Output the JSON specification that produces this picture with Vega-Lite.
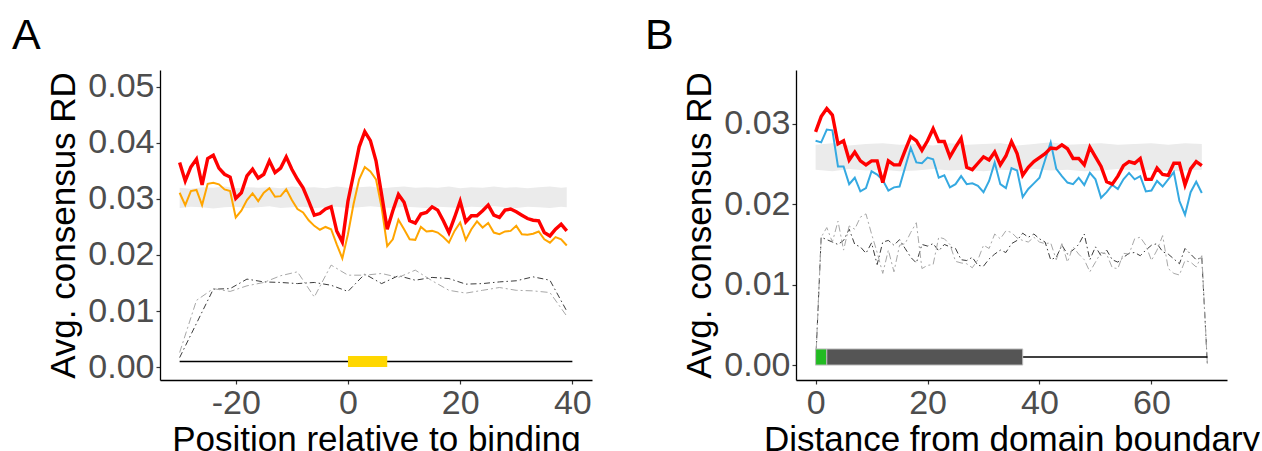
{
  "$schema": "https://vega.github.io/schema/vega-lite/v6.json",
  "background": "white",
  "padding": {"left": 12, "top": 14, "right": 0, "bottom": 0},
  "bounds": "flush",
  "spacing": 204,
  "config": {
    "view": {"stroke": null},
    "font": "Liberation Sans",
    "axis": {"grid": false, "domainColor": "black", "domainWidth": 1.3, "tickColor": "#333333", "tickSize": 4, "tickWidth": 1.2, "labelFontSize": 34, "labelColor": "#4D4D4D", "labelFont": "Liberation Sans", "titleFont": "Liberation Sans", "titleFontSize": 35, "titleColor": "black", "titleFontWeight": "normal", "labelExpr": "replace(datum.label, '\u2212', '-')"},
    "axisX": {"labelPadding": 2, "titlePadding": 2},
    "axisY": {"labelPadding": 2, "titlePadding": 6},
    "title": {"fontSize": 43, "fontWeight": "normal", "anchor": "start", "frame": "group", "color": "black", "font": "Liberation Sans", "baseline": "alphabetic", "offset": 12}
  },
  "datasets": {
    "aLines": [
      {"x": -30, "red": 0.0365, "orange": 0.0311}, {"x": -29, "red": 0.0332, "orange": 0.0289}, {"x": -28, "red": 0.0357, "orange": 0.0314}, {"x": -27, "red": 0.0371, "orange": 0.0316}, {"x": -26, "red": 0.0325, "orange": 0.0289}, {"x": -25, "red": 0.0372, "orange": 0.0327}, {"x": -24, "red": 0.0378, "orange": 0.0329}, {"x": -23, "red": 0.0355, "orange": 0.0326}, {"x": -22, "red": 0.0344, "orange": 0.0317}, {"x": -21, "red": 0.0339, "orange": 0.0314},
      {"x": -20, "red": 0.0301, "orange": 0.0267}, {"x": -19, "red": 0.0311, "orange": 0.0279}, {"x": -18, "red": 0.0341, "orange": 0.0298}, {"x": -17, "red": 0.0353, "orange": 0.031}, {"x": -16, "red": 0.0337, "orange": 0.0296}, {"x": -15, "red": 0.0344, "orange": 0.0311}, {"x": -14, "red": 0.0368, "orange": 0.0319}, {"x": -13, "red": 0.0347, "orange": 0.0304}, {"x": -12, "red": 0.0355, "orange": 0.0305}, {"x": -11, "red": 0.0375, "orange": 0.0317},
      {"x": -10, "red": 0.0353, "orange": 0.0298}, {"x": -9, "red": 0.0335, "orange": 0.0282}, {"x": -8, "red": 0.032, "orange": 0.0276}, {"x": -7, "red": 0.0296, "orange": 0.0262}, {"x": -6, "red": 0.0271, "orange": 0.0252}, {"x": -5, "red": 0.0274, "orange": 0.0245}, {"x": -4, "red": 0.0282, "orange": 0.025}, {"x": -3, "red": 0.0286, "orange": 0.0246}, {"x": -2, "red": 0.0243, "orange": 0.0219}, {"x": -1, "red": 0.0223, "orange": 0.0194},
      {"x": 0, "red": 0.0296, "orange": 0.0237}, {"x": 1, "red": 0.0344, "orange": 0.0291}, {"x": 2, "red": 0.0393, "orange": 0.0335}, {"x": 3, "red": 0.042, "orange": 0.0357}, {"x": 4, "red": 0.0404, "orange": 0.0349}, {"x": 5, "red": 0.0368, "orange": 0.0335}, {"x": 6, "red": 0.0308, "orange": 0.0285}, {"x": 7, "red": 0.0246, "orange": 0.0216}, {"x": 8, "red": 0.0279, "orange": 0.0228}, {"x": 9, "red": 0.0308, "orange": 0.0263},
      {"x": 10, "red": 0.0294, "orange": 0.0246}, {"x": 11, "red": 0.0261, "orange": 0.0228}, {"x": 12, "red": 0.0257, "orange": 0.0227}, {"x": 13, "red": 0.0273, "orange": 0.025}, {"x": 14, "red": 0.0276, "orange": 0.0242}, {"x": 15, "red": 0.0286, "orange": 0.0243}, {"x": 16, "red": 0.028, "orange": 0.024}, {"x": 17, "red": 0.0261, "orange": 0.0232}, {"x": 18, "red": 0.024, "orange": 0.0222}, {"x": 19, "red": 0.0267, "orange": 0.0243},
      {"x": 20, "red": 0.0296, "orange": 0.0258}, {"x": 21, "red": 0.0259, "orange": 0.0227}, {"x": 22, "red": 0.027, "orange": 0.0246}, {"x": 23, "red": 0.027, "orange": 0.026}, {"x": 24, "red": 0.0279, "orange": 0.0249}, {"x": 25, "red": 0.0289, "orange": 0.0257}, {"x": 26, "red": 0.0271, "orange": 0.024}, {"x": 27, "red": 0.0267, "orange": 0.0237}, {"x": 28, "red": 0.028, "orange": 0.0242}, {"x": 29, "red": 0.0282, "orange": 0.0243},
      {"x": 30, "red": 0.0277, "orange": 0.0252}, {"x": 31, "red": 0.0271, "orange": 0.0237}, {"x": 32, "red": 0.0265, "orange": 0.0236}, {"x": 33, "red": 0.0262, "orange": 0.0238}, {"x": 34, "red": 0.0261, "orange": 0.0242}, {"x": 35, "red": 0.024, "orange": 0.0228}, {"x": 36, "red": 0.0234, "orange": 0.0222}, {"x": 37, "red": 0.0246, "orange": 0.0232}, {"x": 38, "red": 0.0255, "orange": 0.0228}, {"x": 39, "red": 0.0243, "orange": 0.0217}
    ],
    "aDash": [
      {"x": -30, "dark": 0.0017, "light": 0.0026}, {"x": -27, "dark": 0.0078, "light": 0.0119}, {"x": -24, "dark": 0.0139, "light": 0.014}, {"x": -21, "dark": 0.014, "light": 0.0135}, {"x": -18, "dark": 0.0157, "light": 0.0145}, {"x": -15, "dark": 0.0152, "light": 0.0151}, {"x": -12, "dark": 0.0151, "light": 0.0163}, {"x": -9, "dark": 0.0149, "light": 0.017}, {"x": -6, "dark": 0.0151, "light": 0.0125}, {"x": -3, "dark": 0.0146, "light": 0.0182}, {"x": 0, "dark": 0.0135, "light": 0.0164}, {"x": 3, "dark": 0.0166, "light": 0.0164},
      {"x": 6, "dark": 0.0149, "light": 0.0167}, {"x": 9, "dark": 0.0163, "light": 0.016}, {"x": 12, "dark": 0.0155, "light": 0.0173}, {"x": 15, "dark": 0.016, "light": 0.0154}, {"x": 18, "dark": 0.0158, "light": 0.0137}, {"x": 21, "dark": 0.0148, "light": 0.0132}, {"x": 24, "dark": 0.0149, "light": 0.0137}, {"x": 27, "dark": 0.0152, "light": 0.0142}, {"x": 30, "dark": 0.0154, "light": 0.0137}, {"x": 33, "dark": 0.0161, "light": 0.0136}, {"x": 36, "dark": 0.0155, "light": 0.0133}, {"x": 39, "dark": 0.01, "light": 0.0091}
    ],
    "aBand": [
      {"x": -30, "y": 0.0284, "y2": 0.032}, {"x": -28, "y": 0.0286, "y2": 0.0318}, {"x": -26, "y": 0.0285, "y2": 0.0321}, {"x": -24, "y": 0.0283, "y2": 0.032}, {"x": -22, "y": 0.0285, "y2": 0.0322}, {"x": -20, "y": 0.0286, "y2": 0.0319}, {"x": -18, "y": 0.0284, "y2": 0.0321}, {"x": -16, "y": 0.0285, "y2": 0.032}, {"x": -14, "y": 0.0287, "y2": 0.0321}, {"x": -12, "y": 0.0284, "y2": 0.0319}, {"x": -10, "y": 0.0285, "y2": 0.0322}, {"x": -8, "y": 0.0286, "y2": 0.032},
      {"x": -6, "y": 0.0284, "y2": 0.0321}, {"x": -4, "y": 0.0285, "y2": 0.0319}, {"x": -2, "y": 0.0286, "y2": 0.0322}, {"x": 0, "y": 0.0284, "y2": 0.032}, {"x": 2, "y": 0.0285, "y2": 0.0321}, {"x": 4, "y": 0.0287, "y2": 0.0322}, {"x": 6, "y": 0.0285, "y2": 0.0319}, {"x": 8, "y": 0.0284, "y2": 0.0321}, {"x": 10, "y": 0.0286, "y2": 0.0322}, {"x": 12, "y": 0.0285, "y2": 0.032}, {"x": 14, "y": 0.0284, "y2": 0.0321}, {"x": 16, "y": 0.0286, "y2": 0.032},
      {"x": 18, "y": 0.0285, "y2": 0.0322}, {"x": 20, "y": 0.0284, "y2": 0.0319}, {"x": 22, "y": 0.0286, "y2": 0.0321}, {"x": 24, "y": 0.0285, "y2": 0.032}, {"x": 26, "y": 0.0287, "y2": 0.0322}, {"x": 28, "y": 0.0285, "y2": 0.032}, {"x": 30, "y": 0.0284, "y2": 0.0321}, {"x": 32, "y": 0.0286, "y2": 0.0319}, {"x": 34, "y": 0.0285, "y2": 0.0321}, {"x": 36, "y": 0.0284, "y2": 0.0322}, {"x": 38, "y": 0.0286, "y2": 0.032}, {"x": 39, "y": 0.0285, "y2": 0.0321}
    ],
    "aBase": [{"x": -30, "x2": 40, "y": 0.001}],
    "aBox": [{"x": 0, "x2": 7, "y": 0, "y2": 0.002}],
    "bLines": [
      {"x": 0, "red": 0.029, "blue": 0.0279}, {"x": 1, "red": 0.0309, "blue": 0.0277}, {"x": 2, "red": 0.0319, "blue": 0.0293}, {"x": 3, "red": 0.0311, "blue": 0.0292}, {"x": 4, "red": 0.0275, "blue": 0.0247}, {"x": 5, "red": 0.0279, "blue": 0.0247}, {"x": 6, "red": 0.0255, "blue": 0.0225}, {"x": 7, "red": 0.0265, "blue": 0.0233}, {"x": 8, "red": 0.0254, "blue": 0.0216}, {"x": 9, "red": 0.0249, "blue": 0.022},
      {"x": 10, "red": 0.0254, "blue": 0.0241}, {"x": 11, "red": 0.0254, "blue": 0.0237}, {"x": 12, "red": 0.0227, "blue": 0.023}, {"x": 13, "red": 0.0254, "blue": 0.0217}, {"x": 14, "red": 0.0249, "blue": 0.0221}, {"x": 15, "red": 0.0249, "blue": 0.0222}, {"x": 16, "red": 0.0267, "blue": 0.0246}, {"x": 17, "red": 0.0284, "blue": 0.027}, {"x": 18, "red": 0.0279, "blue": 0.0252}, {"x": 19, "red": 0.0267, "blue": 0.0251},
      {"x": 20, "red": 0.0279, "blue": 0.0258}, {"x": 21, "red": 0.0294, "blue": 0.0256}, {"x": 22, "red": 0.0278, "blue": 0.0233}, {"x": 23, "red": 0.0278, "blue": 0.0236}, {"x": 24, "red": 0.0259, "blue": 0.0221}, {"x": 25, "red": 0.0271, "blue": 0.0225}, {"x": 26, "red": 0.0282, "blue": 0.0235}, {"x": 27, "red": 0.0246, "blue": 0.0225}, {"x": 28, "red": 0.0243, "blue": 0.0226}, {"x": 29, "red": 0.0251, "blue": 0.0223},
      {"x": 30, "red": 0.0259, "blue": 0.0215}, {"x": 31, "red": 0.0255, "blue": 0.0229}, {"x": 32, "red": 0.0265, "blue": 0.0252}, {"x": 33, "red": 0.0249, "blue": 0.0225}, {"x": 34, "red": 0.026, "blue": 0.022}, {"x": 35, "red": 0.0278, "blue": 0.0245}, {"x": 36, "red": 0.0263, "blue": 0.0242}, {"x": 37, "red": 0.0236, "blue": 0.0209}, {"x": 38, "red": 0.0246, "blue": 0.0219}, {"x": 39, "red": 0.0253, "blue": 0.0226},
      {"x": 40, "red": 0.0258, "blue": 0.0233}, {"x": 41, "red": 0.0263, "blue": 0.0255}, {"x": 42, "red": 0.027, "blue": 0.0277}, {"x": 43, "red": 0.0269, "blue": 0.0244}, {"x": 44, "red": 0.0274, "blue": 0.0235}, {"x": 45, "red": 0.0269, "blue": 0.0227}, {"x": 46, "red": 0.0257, "blue": 0.0225}, {"x": 47, "red": 0.0257, "blue": 0.0233}, {"x": 48, "red": 0.0249, "blue": 0.0224}, {"x": 49, "red": 0.0271, "blue": 0.0239},
      {"x": 50, "red": 0.0259, "blue": 0.0231}, {"x": 51, "red": 0.0247, "blue": 0.0208}, {"x": 52, "red": 0.0228, "blue": 0.0215}, {"x": 53, "red": 0.0225, "blue": 0.0224}, {"x": 54, "red": 0.0235, "blue": 0.0219}, {"x": 55, "red": 0.0248, "blue": 0.0231}, {"x": 56, "red": 0.0253, "blue": 0.0239}, {"x": 57, "red": 0.0251, "blue": 0.0231}, {"x": 58, "red": 0.0257, "blue": 0.0235}, {"x": 59, "red": 0.0231, "blue": 0.0216},
      {"x": 60, "red": 0.0231, "blue": 0.0217}, {"x": 61, "red": 0.0245, "blue": 0.0229}, {"x": 62, "red": 0.0237, "blue": 0.0222}, {"x": 63, "red": 0.0236, "blue": 0.0231}, {"x": 64, "red": 0.0251, "blue": 0.024}, {"x": 65, "red": 0.0251, "blue": 0.0204}, {"x": 66, "red": 0.0224, "blue": 0.0187}, {"x": 67, "red": 0.0244, "blue": 0.0215}, {"x": 68, "red": 0.0253, "blue": 0.0228}, {"x": 69, "red": 0.0248, "blue": 0.0214}
    ],
    "bDash": [
      {"x": 0, "dark": 0, "light": 0}, {"x": 1, "dark": 0.0159, "light": 0.0159}, {"x": 2, "dark": 0.0156, "light": 0.0171}, {"x": 3, "dark": 0.0153, "light": 0.0153}, {"x": 4, "dark": 0.015, "light": 0.0179}, {"x": 5, "dark": 0.0155, "light": 0.0143}, {"x": 6, "dark": 0.0169, "light": 0.0173}, {"x": 7, "dark": 0.015, "light": 0.0169}, {"x": 8, "dark": 0.0147, "light": 0.0184}, {"x": 9, "dark": 0.0139, "light": 0.0188},
      {"x": 10, "dark": 0.0152, "light": 0.0163}, {"x": 11, "dark": 0.0125, "light": 0.014}, {"x": 12, "dark": 0.0153, "light": 0.0114}, {"x": 13, "dark": 0.0155, "light": 0.0143}, {"x": 14, "dark": 0.0149, "light": 0.0116}, {"x": 15, "dark": 0.0156, "light": 0.0149}, {"x": 16, "dark": 0.0145, "light": 0.0151}, {"x": 17, "dark": 0.0134, "light": 0.0165}, {"x": 18, "dark": 0.0127, "light": 0.0177}, {"x": 19, "dark": 0.015, "light": 0.012},
      {"x": 20, "dark": 0.0148, "light": 0.0124}, {"x": 21, "dark": 0.0151, "light": 0.0125}, {"x": 22, "dark": 0.0142, "light": 0.0159}, {"x": 23, "dark": 0.015, "light": 0.0157}, {"x": 24, "dark": 0.0147, "light": 0.015}, {"x": 25, "dark": 0.0145, "light": 0.0129}, {"x": 26, "dark": 0.0131, "light": 0.0127}, {"x": 27, "dark": 0.013, "light": 0.0126}, {"x": 28, "dark": 0.0134, "light": 0.0121}, {"x": 29, "dark": 0.0124, "light": 0.0131},
      {"x": 30, "dark": 0.0123, "light": 0.0149}, {"x": 31, "dark": 0.0132, "light": 0.0145}, {"x": 32, "dark": 0.0138, "light": 0.0163}, {"x": 33, "dark": 0.0143, "light": 0.0157}, {"x": 34, "dark": 0.014, "light": 0.0167}, {"x": 35, "dark": 0.0151, "light": 0.0165}, {"x": 36, "dark": 0.0155, "light": 0.0158}, {"x": 37, "dark": 0.0164, "light": 0.0155}, {"x": 38, "dark": 0.0159, "light": 0.0153}, {"x": 39, "dark": 0.0163, "light": 0.0159},
      {"x": 40, "dark": 0.0157, "light": 0.0153}, {"x": 41, "dark": 0.0153, "light": 0.0151}, {"x": 42, "dark": 0.0131, "light": 0.0152}, {"x": 43, "dark": 0.0134, "light": 0.0131}, {"x": 44, "dark": 0.0149, "light": 0.0151}, {"x": 45, "dark": 0.0138, "light": 0.0128}, {"x": 46, "dark": 0.0143, "light": 0.0147}, {"x": 47, "dark": 0.015, "light": 0.0138}, {"x": 48, "dark": 0.0163, "light": 0.0131}, {"x": 49, "dark": 0.0131, "light": 0.0116},
      {"x": 50, "dark": 0.0147, "light": 0.0128}, {"x": 51, "dark": 0.0136, "light": 0.014}, {"x": 52, "dark": 0.0143, "light": 0.0138}, {"x": 53, "dark": 0.0131, "light": 0.0121}, {"x": 54, "dark": 0.0128, "light": 0.012}, {"x": 55, "dark": 0.0134, "light": 0.0139}, {"x": 56, "dark": 0.0139, "light": 0.0138}, {"x": 57, "dark": 0.014, "light": 0.0157}, {"x": 58, "dark": 0.0136, "light": 0.0159}, {"x": 59, "dark": 0.0143, "light": 0.0149},
      {"x": 60, "dark": 0.0149, "light": 0.013}, {"x": 61, "dark": 0.0151, "light": 0.0143}, {"x": 62, "dark": 0.0141, "light": 0.0161}, {"x": 63, "dark": 0.0138, "light": 0.012}, {"x": 64, "dark": 0.0132, "light": 0.0114}, {"x": 65, "dark": 0.0126, "light": 0.0112}, {"x": 66, "dark": 0.0145, "light": 0.013}, {"x": 67, "dark": 0.0138, "light": 0.0128}, {"x": 68, "dark": 0.0131, "light": 0.0122}, {"x": 69, "dark": 0.0134, "light": 0.0136}, {"x": 70, "dark": 0, "light": 0}
    ],
    "bBand": [
      {"x": 0, "y": 0.0243, "y2": 0.0274}, {"x": 3, "y": 0.0241, "y2": 0.0276}, {"x": 6, "y": 0.0244, "y2": 0.0273}, {"x": 9, "y": 0.0242, "y2": 0.0275}, {"x": 12, "y": 0.0243, "y2": 0.0276}, {"x": 15, "y": 0.0241, "y2": 0.0274}, {"x": 18, "y": 0.0242, "y2": 0.0275}, {"x": 21, "y": 0.0244, "y2": 0.0273},
      {"x": 24, "y": 0.0242, "y2": 0.0276}, {"x": 27, "y": 0.0243, "y2": 0.0274}, {"x": 30, "y": 0.0241, "y2": 0.0275}, {"x": 33, "y": 0.0243, "y2": 0.0276}, {"x": 36, "y": 0.0242, "y2": 0.0273}, {"x": 39, "y": 0.0244, "y2": 0.0275}, {"x": 42, "y": 0.0242, "y2": 0.0277}, {"x": 45, "y": 0.0243, "y2": 0.0274},
      {"x": 48, "y": 0.0241, "y2": 0.0275}, {"x": 51, "y": 0.0242, "y2": 0.0276}, {"x": 54, "y": 0.0244, "y2": 0.0274}, {"x": 57, "y": 0.0242, "y2": 0.0275}, {"x": 60, "y": 0.0243, "y2": 0.0276}, {"x": 63, "y": 0.0241, "y2": 0.0274}, {"x": 66, "y": 0.0242, "y2": 0.0276}, {"x": 69, "y": 0.0243, "y2": 0.0275}
    ],
    "bBase": [{"x": 0, "x2": 70, "y": 0.001}],
    "bBox": [{"x": 0, "x2": 2, "y": 0, "y2": 0.002, "part": "boundary"}, {"x": 2, "x2": 37, "y": 0, "y2": 0.002, "part": "domain"}]
  },
  "hconcat": [
    {
      "title": {"text": "A", "dx": -148},
      "width": 432,
      "height": 310,
      "encoding": {
        "x": {"field": "x", "type": "quantitative", "scale": {"domain": [-33.5, 43.5], "nice": false, "zero": false}, "axis": {"title": "Position relative to binding", "values": [-20, 0, 20, 40]}},
        "y": {"field": "y", "type": "quantitative", "scale": {"domain": [-0.0023, 0.053], "nice": false, "zero": false}, "axis": {"title": "Avg. consensus RD", "values": [0, 0.01, 0.02, 0.03, 0.04, 0.05], "format": ".2f"}}
      },
      "layer": [
        {"data": {"name": "aBand"}, "mark": {"type": "area", "color": "#EBEBEB", "opacity": 1}, "encoding": {"y2": {"field": "y2"}}},
        {"data": {"name": "aDash"}, "transform": [{"fold": ["dark"], "as": ["s", "y"]}], "mark": {"type": "line", "color": "#3C3C3C", "strokeWidth": 1, "strokeDash": [6, 3, 1.5, 3]}},
        {"data": {"name": "aDash"}, "transform": [{"fold": ["light"], "as": ["s", "y"]}], "mark": {"type": "line", "color": "#A8A8A8", "strokeWidth": 1, "strokeDash": [7, 3, 2, 3]}},
        {"data": {"name": "aBase"}, "mark": {"type": "rule", "color": "black", "strokeWidth": 1.5}, "encoding": {"x2": {"field": "x2"}}},
        {"data": {"name": "aBox"}, "mark": {"type": "rect", "color": "#FFD700"}, "encoding": {"x2": {"field": "x2"}, "y2": {"field": "y2"}}},
        {"data": {"name": "aLines"}, "transform": [{"fold": ["orange"], "as": ["s", "y"]}], "mark": {"type": "line", "color": "#FFA500", "strokeWidth": 2}},
        {"data": {"name": "aLines"}, "transform": [{"fold": ["red"], "as": ["s", "y"]}], "mark": {"type": "line", "color": "#FF0000", "strokeWidth": 3.4}}
      ]
    },
    {
      "title": {"text": "B", "dx": -151},
      "width": 431,
      "height": 310,
      "encoding": {
        "x": {"field": "x", "type": "quantitative", "scale": {"domain": [-3.5, 73.5], "nice": false, "zero": false}, "axis": {"title": "Distance from domain boundary", "values": [0, 20, 40, 60]}},
        "y": {"field": "y", "type": "quantitative", "scale": {"domain": [-0.00186, 0.0367], "nice": false, "zero": false}, "axis": {"title": "Avg. consensus RD", "values": [0, 0.01, 0.02, 0.03], "format": ".2f"}}
      },
      "layer": [
        {"data": {"name": "bBand"}, "mark": {"type": "area", "color": "#EBEBEB", "opacity": 1}, "encoding": {"y2": {"field": "y2"}}},
        {"data": {"name": "bDash"}, "transform": [{"fold": ["dark"], "as": ["s", "y"]}], "mark": {"type": "line", "color": "#3C3C3C", "strokeWidth": 1, "strokeDash": [6, 3, 1.5, 3]}},
        {"data": {"name": "bDash"}, "transform": [{"fold": ["light"], "as": ["s", "y"]}], "mark": {"type": "line", "color": "#A8A8A8", "strokeWidth": 1, "strokeDash": [7, 3, 2, 3]}},
        {"data": {"name": "bBase"}, "mark": {"type": "rule", "color": "black", "strokeWidth": 1.5}, "encoding": {"x2": {"field": "x2"}}},
        {"data": {"name": "bBox"}, "mark": {"type": "rect", "stroke": "#BDBDBD", "strokeWidth": 1}, "encoding": {"x2": {"field": "x2"}, "y2": {"field": "y2"}, "color": {"field": "part", "type": "nominal", "scale": {"domain": ["boundary", "domain"], "range": ["#22BB22", "#555555"]}, "legend": null}}},
        {"data": {"name": "bLines"}, "transform": [{"fold": ["blue"], "as": ["s", "y"]}], "mark": {"type": "line", "color": "#35A9E1", "strokeWidth": 2}},
        {"data": {"name": "bLines"}, "transform": [{"fold": ["red"], "as": ["s", "y"]}], "mark": {"type": "line", "color": "#FF0000", "strokeWidth": 3.4}}
      ]
    }
  ]
}
